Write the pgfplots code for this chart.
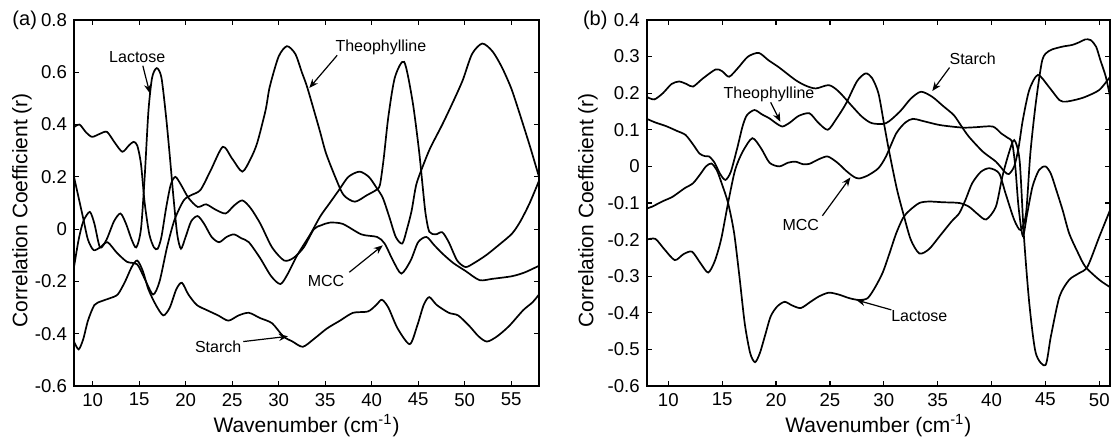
\documentclass[border=0pt]{standalone}
\usepackage{fontspec}
\setmainfont{Liberation Sans}
\usepackage{pgfplots}
\pgfplotsset{compat=1.18}
\usetikzlibrary{arrows.meta}

\pgfplotsset{
  myaxis/.style={
    scale only axis, height=183pt, ymin=-0.6,
    axis line style={line width=1pt},
    tick align=inside, major tick length=2.5pt,
    tick style={line width=0.6pt, black},
    ticklabel style={font=\fontsize{9.3}{11}\selectfont},
    label style={font=\fontsize{10.5}{12}\selectfont},
    /pgf/number format/assume math mode=true,
    ylabel={Correlation Coefficient (r)},
    xlabel={Wavenumber (cm\textsuperscript{-1})},
    xlabel style={at={(axis description cs:0.5,-0.107)}, anchor=center},
    clip mode=individual,
  },
}
\tikzset{
  cv/.style={line width=0.85pt, black, smooth, tension=0.45},
  ann/.style={font=\fontsize{8}{10}\selectfont, inner sep=0pt},
  arr/.style={line width=0.6pt, -{Stealth[length=4.5pt,width=3.6pt]}},
}

\begin{document}
\begin{tikzpicture}
\useasboundingbox (0,0) rectangle (555.5pt,219pt);

% ---------------- panel (a)
\begin{axis}[myaxis, at={(37pt,26pt)}, anchor=south west, width=232.5pt,
  xmin=8, xmax=58, ymax=0.8,
  xtick={10,15,...,55},
  ytick={-0.6,-0.4,-0.2,0,0.2,0.4,0.6,0.8},
  yticklabels={-0.6,-0.4,-0.2,0,0.2,0.4,0.6,0.8},
  ylabel style={at={(axis description cs:-0.112,0.48)}, anchor=center},
]
% Theophylline
\addplot[cv, no marks] coordinates {(8,0.20)(8.5,0.12)(9,0.04)(9.5,-0.04)(10.1,-0.08)(10.8,-0.07)(11.6,-0.05)(12.6,-0.09)(13.7,-0.125)(14.8,-0.135)(15.6,-0.19)(16.5,-0.25)(17.2,-0.2)(18,-0.07)(18.8,0.035)(19.8,0.11)(20.6,0.13)(21.6,0.15)(22.7,0.225)(24,0.315)(25,0.27)(26.1,0.22)(27,0.27)(27.7,0.33)(28.6,0.455)(29.05,0.545)(30,0.66)(30.9,0.70)(31.8,0.67)(32.5,0.6)(33.1,0.54)(34.4,0.38)(35.1,0.29)(36.2,0.19)(37,0.13)(38.2,0.105)(39.5,0.13)(40.5,0.15)(40.9,0.17)(41.3,0.27)(41.8,0.43)(42.5,0.58)(43.5,0.64)(44.4,0.49)(45.1,0.30)(45.5,0.16)(45.8,0.06)(46.2,-0.01)(46.9,-0.02)(47.6,-0.012)(48.3,-0.05)(49.2,-0.12)(50.1,-0.145)(51,-0.13)(52.3,-0.1)(53.7,-0.06)(55.1,-0.017)(56,0.03)(57,0.1)(58,0.185)};
% Lactose
\addplot[cv, no marks] coordinates {(8,-0.145)(8.5,-0.04)(9,0.03)(9.7,0.066)(10.2,0.02)(10.8,-0.07)(11.5,-0.04)(12.3,0.03)(13.0,0.06)(13.6,0.02)(14.2,-0.04)(14.7,-0.07)(15.2,0.0)(15.6,0.2)(16.0,0.45)(16.4,0.58)(16.9,0.616)(17.4,0.58)(17.9,0.43)(18.3,0.28)(18.7,0.12)(19.1,-0.02)(19.5,-0.075)(20.0,-0.03)(20.6,0.03)(21.3,0.05)(22.0,0.02)(22.8,-0.03)(23.6,-0.05)(24.4,-0.03)(25.2,-0.02)(26,-0.035)(26.8,-0.05)(28,-0.11)(29.2,-0.18)(30.2,-0.21)(31,-0.17)(32,-0.1)(33.4,-0.02)(34.5,0.05)(35.5,0.1)(36.5,0.15)(37.5,0.2)(38.7,0.22)(39.7,0.2)(40.5,0.16)(41.2,0.12)(41.9,0.047)(42.6,-0.03)(43.3,-0.055)(43.8,-0.0)(44.3,0.07)(44.8,0.17)(45.5,0.24)(46.3,0.31)(47.6,0.40)(48.8,0.49)(49.8,0.57)(50.8,0.67)(51.9,0.71)(53,0.68)(54,0.62)(55,0.54)(55.8,0.455)(57,0.32)(58,0.2)};
% MCC
\addplot[cv, no marks] coordinates {(8,0.39)(8.6,0.40)(9.3,0.37)(9.95,0.353)(10.8,0.365)(11.55,0.372)(12.4,0.33)(13.2,0.296)(13.9,0.32)(14.4,0.334)(14.8,0.32)(15.2,0.25)(15.6,0.1)(16.1,-0.02)(16.6,-0.07)(17.0,-0.075)(17.4,-0.03)(17.9,0.08)(18.4,0.17)(18.9,0.2)(19.5,0.17)(20.3,0.12)(21.3,0.085)(22.2,0.095)(23.2,0.075)(24.3,0.06)(25.2,0.09)(26.1,0.11)(27.0,0.08)(28.05,0.02)(29.3,-0.07)(30.6,-0.12)(31.6,-0.11)(32.7,-0.07)(33.8,0.0)(34.6,0.015)(35.5,0.025)(36.9,0.02)(38.9,-0.02)(40.6,-0.03)(41.4,-0.055)(42.3,-0.12)(43.2,-0.17)(44.2,-0.12)(45.0,-0.05)(45.9,-0.03)(46.7,-0.06)(47.6,-0.093)(48.8,-0.13)(50.1,-0.16)(51.6,-0.195)(53,-0.19)(55.1,-0.18)(56.5,-0.165)(58,-0.14)};
% Starch
\addplot[cv, no marks] coordinates {(8,-0.43)(8.5,-0.46)(9,-0.42)(9.5,-0.35)(10.2,-0.29)(11,-0.275)(11.8,-0.265)(12.7,-0.25)(13.5,-0.2)(14.2,-0.145)(14.8,-0.12)(15.4,-0.16)(16,-0.23)(16.8,-0.29)(17.6,-0.33)(18.3,-0.3)(19,-0.23)(19.6,-0.205)(20.3,-0.25)(21.2,-0.29)(22.3,-0.31)(23.5,-0.33)(24.6,-0.35)(25.7,-0.33)(26.8,-0.32)(28,-0.34)(29.3,-0.36)(30.5,-0.41)(31.5,-0.43)(32.6,-0.45)(33.8,-0.42)(35.2,-0.38)(36.6,-0.35)(38,-0.32)(39.6,-0.315)(40.5,-0.29)(41.1,-0.27)(41.8,-0.3)(42.8,-0.38)(44.1,-0.44)(44.9,-0.37)(45.6,-0.29)(46.2,-0.26)(47,-0.29)(48.3,-0.32)(49.3,-0.33)(50.5,-0.37)(51.5,-0.41)(52.4,-0.43)(53.5,-0.41)(54.8,-0.37)(56.3,-0.31)(57.3,-0.28)(58,-0.25)};
% annotations
\node[ann] at (axis cs:14.8,0.658) {Lactose};
\draw[arr] (axis cs:15.4,0.625) -- (axis cs:16.15,0.52);
\node[ann] at (axis cs:41.0,0.697) {Theophylline};
\draw[arr] (axis cs:36.3,0.665) -- (axis cs:33.3,0.54);
\node[ann] at (axis cs:35.1,-0.20) {MCC};
\draw[arr] (axis cs:37.6,-0.165) -- (axis cs:41.2,-0.062);
\node[ann] at (axis cs:23.5,-0.45) {Starch};
\draw[arr] (axis cs:26.2,-0.43) -- (axis cs:31.0,-0.41);
\node[font=\fontsize{10}{12}\selectfont, anchor=center] at (axis description cs:-0.106,1.0) {(a)};
\end{axis}

% ---------------- panel (b)
\begin{axis}[myaxis, at={(323.35pt,26pt)}, anchor=south west, width=231.7pt,
  xmin=8, xmax=51, ymax=0.4,
  xtick={10,15,...,50},
  ytick={-0.6,-0.5,-0.4,-0.3,-0.2,-0.1,0,0.1,0.2,0.3,0.4},
  yticklabels={-0.6,-0.5,-0.4,-0.3,-0.2,-0.1,0,0.1,0.2,0.3,0.4},
  ylabel style={at={(axis description cs:-0.127,0.48)}, anchor=center},
]
% Starch
\addplot[cv, no marks] coordinates {(8,0.19)(8.7,0.183)(9.5,0.2)(10.3,0.225)(11,0.232)(11.7,0.225)(12.3,0.218)(13.2,0.24)(14.4,0.265)(15,0.26)(15.65,0.245)(16.5,0.27)(17.4,0.3)(18.4,0.31)(19.3,0.29)(20.3,0.27)(21.8,0.236)(22.8,0.22)(23.7,0.213)(24.9,0.222)(25.8,0.205)(27.1,0.163)(28,0.135)(28.9,0.118)(30.2,0.118)(31.5,0.15)(32.5,0.185)(33.45,0.204)(34.5,0.19)(35.5,0.165)(36.5,0.14)(37.2,0.11)(37.9,0.081)(39.2,0.04)(40.4,0.013)(41.2,-0.014)(41.6,-0.021)(42.1,0.0)(42.5,0.05)(42.9,0.127)(43.5,0.209)(44.3,0.25)(45.3,0.218)(46.3,0.181)(46.9,0.177)(47.8,0.182)(48.7,0.19)(50,0.209)(51,0.245)};
% MCC
\addplot[cv, no marks] coordinates {(8,-0.2)(8.8,-0.198)(9.6,-0.225)(10.6,-0.256)(11.4,-0.24)(12.2,-0.233)(13,-0.265)(13.7,-0.29)(14.3,-0.26)(14.9,-0.2)(15.55,-0.1)(16.2,-0.01)(16.9,0.04)(17.8,0.077)(18.6,0.05)(19.4,0.01)(20.3,0.0)(21.1,0.01)(21.8,0.013)(22.5,0.006)(23.1,0.007)(24,0.02)(24.8,0.027)(25.7,0.01)(26.5,-0.012)(27.2,-0.028)(27.7,-0.033)(28.5,-0.025)(29.5,-0.005)(30.2,0.027)(31.15,0.09)(32,0.12)(32.7,0.13)(33.5,0.125)(35.2,0.113)(37.3,0.106)(38.5,0.107)(40.1,0.109)(40.9,0.09)(41.5,0.078)(41.9,0.066)(42.2,0.0)(42.5,-0.11)(42.9,-0.19)(43.3,-0.13)(43.8,-0.055)(44.4,-0.01)(45,0.0)(45.5,-0.02)(46,-0.064)(46.6,-0.12)(47.2,-0.183)(48,-0.235)(48.7,-0.274)(50,-0.31)(51,-0.33)};
% Lactose
\addplot[cv, no marks] coordinates {(8,-0.115)(8.5,-0.11)(9.5,-0.095)(10.4,-0.083)(11.5,-0.06)(12.3,-0.046)(13,-0.02)(13.5,0.0)(14,0.008)(14.5,-0.01)(15,-0.05)(15.55,-0.1)(16.1,-0.18)(16.6,-0.3)(17.1,-0.43)(17.6,-0.51)(18.05,-0.535)(18.5,-0.51)(19,-0.46)(19.5,-0.41)(20.1,-0.383)(20.8,-0.37)(21.5,-0.38)(22.3,-0.387)(23.2,-0.37)(24,-0.355)(24.9,-0.345)(25.8,-0.35)(26.8,-0.36)(27.7,-0.365)(28.5,-0.36)(29.2,-0.33)(29.9,-0.29)(30.5,-0.24)(31.15,-0.183)(31.8,-0.14)(32.4,-0.12)(33.3,-0.1)(34.2,-0.096)(35.5,-0.098)(37,-0.1)(37.9,-0.11)(38.7,-0.13)(39.5,-0.145)(40.4,-0.11)(41,-0.028)(41.6,0.036)(42.1,0.072)(42.6,0.017)(43.0,-0.19)(43.5,-0.374)(44.1,-0.51)(45,-0.543)(45.5,-0.465)(46.3,-0.356)(47.2,-0.31)(48.1,-0.292)(48.9,-0.274)(50,-0.192)(51,-0.119)};
% Theophylline
\addplot[cv, no marks] coordinates {(8,0.13)(8.8,0.12)(9.8,0.11)(10.8,0.097)(11.6,0.086)(12.3,0.06)(12.9,0.035)(13.4,0.028)(13.8,0.027)(14.3,0.01)(14.8,-0.02)(15.3,-0.037)(15.8,-0.015)(16.4,0.05)(16.9,0.11)(17.3,0.14)(18,0.154)(18.7,0.142)(19.4,0.131)(20,0.118)(20.6,0.109)(21.3,0.12)(22.1,0.138)(23.1,0.145)(23.9,0.12)(24.8,0.1)(25.6,0.13)(26.5,0.172)(27.5,0.232)(28.3,0.254)(28.9,0.242)(29.5,0.2)(30,0.12)(30.5,0.04)(31.2,-0.06)(31.8,-0.128)(32.5,-0.2)(33.3,-0.238)(34.2,-0.226)(35.2,-0.19)(36.3,-0.15)(37,-0.128)(37.6,-0.09)(38.2,-0.046)(39,-0.015)(39.8,-0.005)(40.7,-0.019)(41.3,-0.074)(42.1,-0.146)(42.7,-0.174)(43.2,-0.128)(43.6,0.036)(44.1,0.172)(44.7,0.29)(45.3,0.315)(46,0.323)(46.7,0.328)(47.5,0.332)(48.2,0.34)(48.7,0.347)(49.2,0.345)(49.7,0.327)(50.1,0.29)(50.6,0.245)(51,0.19)};
% annotations
\node[ann] at (axis cs:19.35,0.198) {Theophylline};
\draw[arr] (axis cs:19.5,0.175) -- (axis cs:20.4,0.122);
\node[ann] at (axis cs:22.3,-0.16) {MCC};
\draw[arr] (axis cs:24.3,-0.135) -- (axis cs:26.9,-0.03);
\node[ann] at (axis cs:38.25,0.295) {Starch};
\draw[arr] (axis cs:36.1,0.27) -- (axis cs:34.5,0.206);
\node[ann] at (axis cs:33.3,-0.41) {Lactose};
\draw[arr] (axis cs:30.7,-0.392) -- (axis cs:27.45,-0.365);
\node[font=\fontsize{10}{12}\selectfont, anchor=center] at (axis description cs:-0.111,1.0) {(b)};
\end{axis}
\end{tikzpicture}
\end{document}
